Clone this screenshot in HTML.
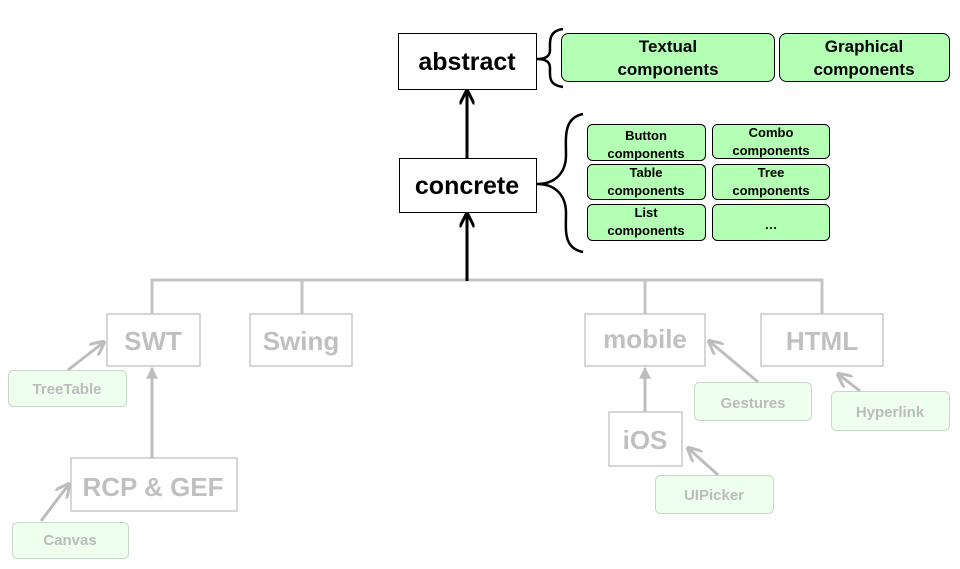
<!DOCTYPE html>
<html><head><meta charset="utf-8"><style>
html,body{margin:0;padding:0;background:#fff;}
svg{display:block;}
</style></head><body>
<svg width="960" height="569" viewBox="0 0 960 569" xmlns="http://www.w3.org/2000/svg" font-family="Liberation Sans, Arial, sans-serif" font-weight="bold">
<defs>
<marker id="ab" viewBox="0 0 10 10" refX="9" refY="5" markerWidth="5" markerHeight="5" orient="auto"><path d="M0,0 L10,5 L0,10" fill="none" stroke="#000" stroke-width="2"/></marker>
<marker id="ag" viewBox="0 0 10 10" refX="9" refY="5" markerWidth="5" markerHeight="5" orient="auto"><path d="M0,0 L10,5 L0,10" fill="none" stroke="#bdbdbd" stroke-width="2"/></marker>
<marker id="agf" viewBox="0 0 10 10" refX="9" refY="5" markerWidth="4" markerHeight="4" orient="auto"><path d="M0,0 L10,5 L0,10 z" fill="#bdbdbd"/></marker>
</defs>
<!-- grey tree -->
<g stroke="#c4c4c4" stroke-width="3" fill="none">
<path d="M152,314 V280 H822 V314"/>
<path d="M302,280 V314"/>
<path d="M645,280 V314"/>
</g>
<!-- black arrows -->
<line x1="467" y1="281" x2="467" y2="214" stroke="#000" stroke-width="3" marker-end="url(#ab)"/>
<line x1="467" y1="158" x2="467" y2="91" stroke="#000" stroke-width="3" marker-end="url(#ab)"/>
<!-- abstract / concrete -->
<rect x="398.5" y="33.5" width="138" height="56" fill="#fff" stroke="#000"/>
<text x="467" y="70" font-size="25" text-anchor="middle">abstract</text>
<rect x="399.5" y="158.5" width="137" height="54" fill="#fff" stroke="#000"/>
<text x="467" y="194" font-size="25" text-anchor="middle">concrete</text>
<!-- braces -->
<path d="M563,29 C548,31 550,42 550,50 C550,56 546,59 537,59 C546,59 550,62 550,68 C550,76 548,85 563,87" fill="none" stroke="#000" stroke-width="2.5"/>
<path d="M583,114 C563,118 566,138 566,155 C566,172 556,184 537,184 C556,184 566,196 566,213 C566,230 563,248 583,252" fill="none" stroke="#000" stroke-width="2.5"/>
<!-- green boxes -->
<g fill="#b3ffb3" stroke="#000" stroke-width="1">
<rect x="561.5" y="33.5" width="213" height="48" rx="7"/>
<rect x="779.5" y="33.5" width="170" height="48" rx="7"/>
<rect x="587.5" y="124.5" width="118" height="36" rx="5"/>
<rect x="712.5" y="124.5" width="117" height="34" rx="5"/>
<rect x="587.5" y="164.5" width="118" height="35" rx="5"/>
<rect x="712.5" y="164.5" width="117" height="35" rx="5"/>
<rect x="587.5" y="204.5" width="118" height="36" rx="5"/>
<rect x="712.5" y="204.5" width="117" height="36" rx="5"/>
</g>
<g font-size="17" text-anchor="middle">
<text x="668" y="52">Textual</text><text x="668" y="75">components</text>
<text x="864" y="52">Graphical</text><text x="864" y="75">components</text>
</g>
<g font-size="13" text-anchor="middle">
<text x="646" y="140">Button</text><text x="646" y="158">components</text>
<text x="771" y="137">Combo</text><text x="771" y="155">components</text>
<text x="646" y="177">Table</text><text x="646" y="195">components</text>
<text x="771" y="177">Tree</text><text x="771" y="195">components</text>
<text x="646" y="217">List</text><text x="646" y="235">components</text>
<text x="771" y="229">…</text>
</g>
<!-- grey boxes -->
<g fill="#fff" stroke="#c8c8c8" stroke-width="1.5">
<rect x="107" y="314" width="93" height="52"/>
<rect x="250" y="314" width="102" height="52"/>
<rect x="585" y="314" width="120" height="52"/>
<rect x="761" y="314" width="122" height="52"/>
<rect x="71" y="458" width="166" height="53"/>
<rect x="609" y="412" width="73" height="54"/>
</g>
<g fill="#c0c0c0" font-size="26" text-anchor="middle">
<text x="153" y="350">SWT</text>
<text x="301" y="350">Swing</text>
<text x="645" y="348">mobile</text>
<text x="822" y="350">HTML</text>
<text x="153" y="496">RCP &amp; GEF</text>
<text x="645" y="449">iOS</text>
</g>
<!-- light green boxes -->
<g fill="#eeffee" stroke="#c8d8c8" stroke-width="1">
<rect x="8.5" y="370.5" width="118" height="36" rx="5"/>
<rect x="12.5" y="522.5" width="116" height="36" rx="5"/>
<rect x="694.5" y="382.5" width="117" height="38" rx="5"/>
<rect x="831.5" y="391.5" width="118" height="39" rx="5"/>
<rect x="655.5" y="475.5" width="118" height="38" rx="5"/>
</g>
<g fill="#bcbcbc" font-size="15" text-anchor="middle">
<text x="67" y="394">TreeTable</text>
<text x="70" y="545">Canvas</text>
<text x="753" y="408">Gestures</text>
<text x="890" y="417">Hyperlink</text>
<text x="714" y="500">UIPicker</text>
</g>
<!-- grey arrows -->
<g stroke="#bdbdbd" stroke-width="3" fill="none">
<line x1="68" y1="370" x2="104" y2="342" marker-end="url(#ag)"/>
<line x1="41" y1="521" x2="69" y2="484" marker-end="url(#ag)"/>
<line x1="152" y1="458" x2="152" y2="368" marker-end="url(#agf)"/>
<line x1="645" y1="412" x2="645" y2="368" marker-end="url(#agf)"/>
<line x1="758" y1="382" x2="709" y2="341" marker-end="url(#ag)"/>
<line x1="718" y1="475" x2="688" y2="448" marker-end="url(#ag)"/>
<line x1="860" y1="391" x2="838" y2="374" marker-end="url(#ag)"/>
</g>
</svg>
</body></html>
